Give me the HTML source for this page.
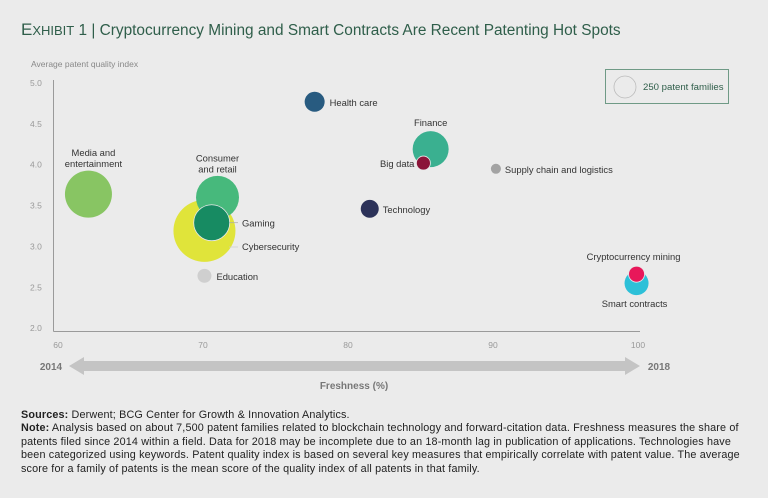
<!DOCTYPE html>
<html><head><meta charset="utf-8"><style>
html,body{margin:0;padding:0;background:#ebebeb;}
body{width:768px;height:498px;overflow:hidden;position:relative;font-family:"Liberation Sans",sans-serif;}
.title{position:absolute;left:21px;top:20px;font-size:15.4px;color:#2f5e4a;white-space:nowrap;}
.notes{position:absolute;left:21px;top:409px;width:745px;font-size:10.8px;line-height:13.4px;color:#222;letter-spacing:0.15px;}
.notes div{white-space:nowrap;}
.notes b{font-weight:bold;}
</style></head><body>
<div class="title"><span style="font-size:17px">E</span><span style="font-size:13px">XHIBIT</span> 1 | Cryptocurrency Mining and Smart Contracts Are Recent Patenting Hot Spots</div>
<svg id="chart" width="768" height="498" style="position:absolute;left:0;top:0"></svg>
<div class="notes">
<div><b>Sources:</b> Derwent; BCG Center for Growth &amp; Innovation Analytics.</div>
<div><b>Note:</b> Analysis based on about 7,500 patent families related to blockchain technology and forward-citation data. Freshness measures the share of</div>
<div>patents filed since 2014 within a field. Data for 2018 may be incomplete due to an 18-month lag in publication of applications. Technologies have</div>
<div>been categorized using keywords. Patent quality index is based on several key measures that empirically correlate with patent value. The average</div>
<div>score for a family of patents is the mean score of the quality index of all patents in that family.</div>
</div>
<script>
const categories = ["Media and entertainment","Cybersecurity","Consumer and retail","Gaming","Education","Health care","Technology","Finance","Big data","Supply chain and logistics","Smart contracts","Cryptocurrency mining"];
const freshness = [62.1, 70.1, 71.0, 70.6, 70.1, 77.7, 81.5, 85.7, 85.2, 90.2, 99.9, 99.9];
const quality = [3.64, 3.19, 3.60, 3.29, 2.64, 4.77, 3.46, 4.19, 4.02, 3.95, 2.55, 2.66];
const families = [1141, 1985, 955, 669, 101, 207, 167, 669, 101, 52, 298, 132];
const xTicks = [60,70,80,90,100];
const yTicks = [2.0,2.5,3.0,3.5,4.0,4.5,5.0];
const colors = ["#88c563","#e0e43a","#47b97c","#178b62","#cfcfcf","#285b80","#2c3259","#3ab090","#8b1539","#a3a3a3","#2dc0d8","#e8185a"];
const labelCfg = [
 [5,-38,"middle",["Media and","entertainment"]],
 [0,0,"start",["Cybersecurity"]],
 [0,-36,"middle",["Consumer","and retail"]],
 [0,0,"start",["Gaming"]],
 [12,4,"start",["Education"]],
 [15,4,"start",["Health care"]],
 [13,4,"start",["Technology"]],
 [0,-23,"middle",["Finance"]],
 [-9,4,"end",["Big data"]],
 [9,4,"start",["Supply chain and logistics"]],
 [-2,24,"middle",["Smart contracts"]],
 [-3,-14,"middle",["Cryptocurrency mining"]]
];
const NS="http://www.w3.org/2000/svg";
const svg=document.getElementById('chart');
const X=v=>58+(v-60)*14.5;
const Y=v=>83+(5-v)*81.7;
const R=s=>11*Math.sqrt(s/250);
function mk(t,a,txt){const e=document.createElementNS(NS,t);for(const k in a)e.setAttribute(k,a[k]);if(txt!==undefined)e.textContent=txt;svg.appendChild(e);return e;}
let ax=mk('line',{x1:53.5,y1:80,x2:53.5,y2:331.5,stroke:'#9a9a9a','stroke-width':1});


ax=mk('line',{x1:53.5,y1:331.5,x2:640,y2:331.5,stroke:'#9a9a9a','stroke-width':1});


let t=mk('text',{x:31,y:67,'font-size':'8.5','fill':'#888'},'Average patent quality index');


yTicks.forEach(v=>{const e=mk('text',{x:30,y:Y(v)+3,'font-size':'8.5',fill:'#999'},v.toFixed(1));

});
xTicks.forEach(v=>{const e=mk('text',{x:X(v),y:348,'font-size':'8.5',fill:'#999','text-anchor':'middle'},String(v));

});
let ar=mk('path',{d:'M69,366 L84,357 L84,361 L625,361 L625,357 L640,366 L625,375 L625,371 L84,371 L84,375 Z',fill:'#c4c4c4'});


t=mk('text',{x:51,y:370,'font-size':'10','font-weight':'bold',fill:'#777','text-anchor':'middle'},'2014');


t=mk('text',{x:659,y:370,'font-size':'10','font-weight':'bold',fill:'#777','text-anchor':'middle'},'2018');


t=mk('text',{x:354,y:389,'font-size':'10','font-weight':'bold',fill:'#777','text-anchor':'middle'},'Freshness (%)');


categories.forEach((c,i)=>{
 const cx=X(freshness[i]),cy=Y(quality[i]),r=R(families[i]);
 const b=mk('circle',{cx:cx,cy:cy,r:r,fill:colors[i],stroke:(i==8||i==11||i==3)?'#e8e8e8':'none','stroke-width':0.8});
 
 
});
categories.forEach((c,i)=>{
 const cx=X(freshness[i]),cy=Y(quality[i]),r=R(families[i]);
 const L=labelCfg[i];let lx=cx+L[0],ly=cy+L[1];
 if(c==="Gaming"){lx=242;ly=cy+4;const ln=mk('line',{x1:cx+r,y1:cy,x2:238,y2:cy,stroke:'#aaa','stroke-width':0.7});}
 if(c==="Cybersecurity"){lx=242;ly=250;const ln=mk('line',{x1:229,y1:247,x2:238,y2:247,stroke:'#ccc','stroke-width':0.7});}
 L[3].forEach((s,j)=>{const e=mk('text',{x:lx,y:ly+j*11,'font-size':'9.4',fill:'#333','text-anchor':L[2]},s);
 
 });
});
let lg=mk('rect',{x:605.5,y:69.5,width:123,height:34,fill:'none',stroke:'#6f9a86','stroke-width':1});


lg=mk('circle',{cx:625,cy:87,r:R(250),fill:'none',stroke:'#bbb','stroke-width':0.8});


lg=mk('text',{x:643,y:90,'font-size':'9.6',fill:'#2f5e4a'},'250 patent families');


</script>
</body></html>
